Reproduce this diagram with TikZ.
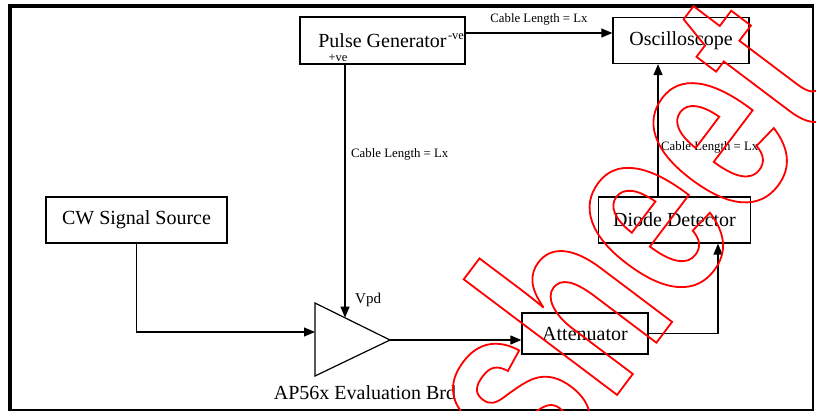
\documentclass[tikz,border=0pt]{standalone}
\usepackage{fontspec}
\setmainfont{Liberation Serif}
\newfontfamily\wmfont[FakeStretch=0.72]{Liberation Sans Bold}
\usetikzlibrary{arrows.meta}
\begin{document}
\begin{tikzpicture}[x=1pt,y=-1pt,
  box/.style={draw,line width=1.3pt,inner sep=0pt,font=\fontsize{20}{22}\selectfont},
  conn/.style={line width=1.2pt},
  arr/.style={conn,-{Triangle[length=11pt,width=9pt]}},
  cable/.style={inner sep=0pt,font=\fontsize{12.8}{14}\selectfont},
  small/.style={inner sep=0pt,font=\fontsize{12.5}{13}\selectfont}]
\useasboundingbox (0,0) rectangle (816,411);
% frame
\draw[line width=4pt] (10,411) -- (10,6.5) -- (814,6.5);
\draw[line width=1.8pt] (10,409.6) -- (813,409.6) -- (813,6.5);
% boxes
\node[box,minimum width=165pt,minimum height=47pt] (pg) at (382.5,40.5) {Pulse Generator\hspace{22pt}};
\node[box,minimum width=136pt,minimum height=46pt] (osc) at (681,40.5) {Oscilloscope};
\node[box,minimum width=152pt,minimum height=46pt] (dd) at (674.5,220) {Diode Detector};
\node[box,minimum width=181pt,minimum height=46pt] (cw) at (136.5,220) {CW Signal Source};
\node[box,minimum width=126pt,minimum height=41pt] (att) at (585,333.5) {Attenuator};
\node[small] (neg) at (456,37) {-ve};
\node[small] (pos) at (338,58) {+ve};
% amplifier
\coordinate (ampT) at (315,303);
\coordinate (ampB) at (315,376);
\coordinate (ampO) at (390,340);
\coordinate (ampIn) at (315,332);
\coordinate (ampV) at (345,317.6);
\draw[line width=1.2pt,line join=miter] (ampT) -- (ampO) -- (ampB) -- cycle;
\node[inner sep=0pt,anchor=west,font=\fontsize{15}{16}\selectfont] (vpd) at (355,300) {Vpd};
\node[inner sep=0pt,anchor=base,font=\fontsize{20}{22}\selectfont] (ap) at (365,399) {AP56x Evaluation Brd};
% connectors
\coordinate (xa) at (658,0);
\coordinate (xb) at (718,0);
\draw[arr] ([yshift=7.5pt]pg.east) -- ([yshift=7.5pt]osc.west)
  node[cable,midway,yshift=14pt] (l1) {Cable Length = Lx};
\draw[arr] (pg.south -| ampV) -- (ampV);
\node[cable,anchor=west] (l2) at (351,154) {Cable Length = Lx};
\draw[arr] (dd.north -| xa) -- (osc.south -| xa);
\node[cable,anchor=west] (l3) at (661,147) {Cable Length = Lx};
\draw[arr] (att.east) -- (att.east -| xb) -- (dd.south -| xb);
\draw[arr] (ampO) -- (att.west |- ampO);
\draw[arr] (cw.south) -- (cw.south |- ampIn) -- (ampIn);
% watermark
\begin{scope}
\clip (0,0) rectangle (816,411);
\node[rotate=53,anchor=base west,inner sep=0pt,text=red] (wm) at (545.1,490.4)
  {\fontsize{265}{265}\wmfont\special{pdf:literal direct 1 Tr 1.8 w}sheet\special{pdf:literal direct 0 Tr}};
\end{scope}
\end{tikzpicture}
\end{document}
